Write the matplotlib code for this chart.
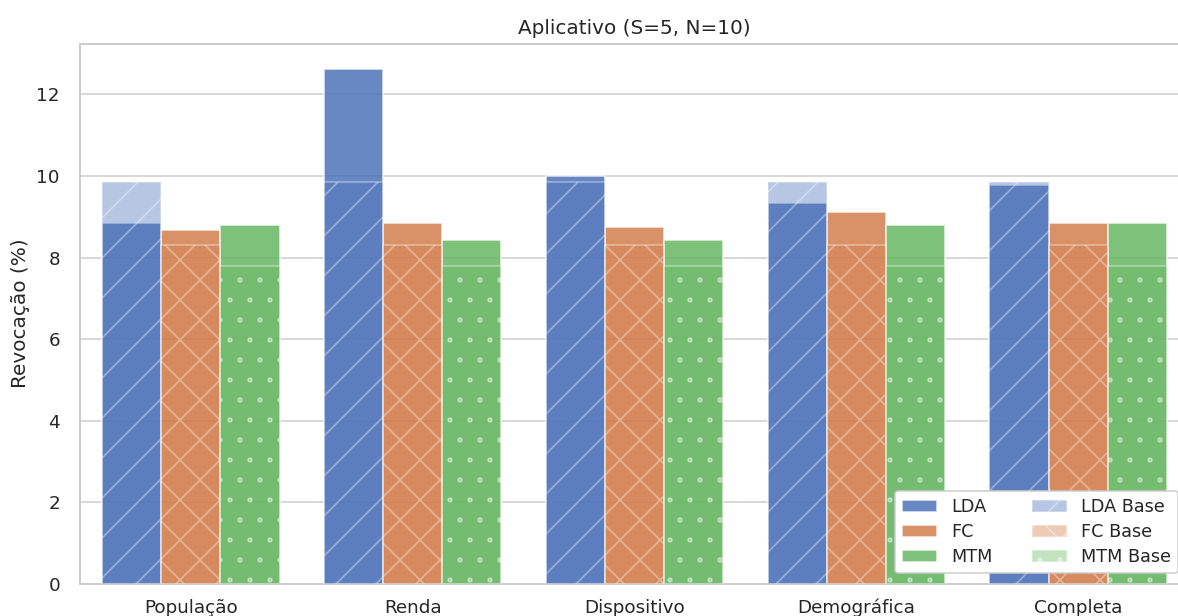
import matplotlib
matplotlib.use("Agg")
import numpy as np
import matplotlib.pyplot as plt

# Recall (%) per feature set, one list per model
categories = ["População", "Renda", "Dispositivo", "Demográfica", "Completa"]
models = ["LDA", "FC", "MTM"]
lda = [8.84, 12.62, 10.01, 9.35, 9.77]
fc = [8.67, 8.84, 8.74, 9.11, 8.84]
mtm = [8.79, 8.42, 8.42, 8.79, 8.84]
# Baseline recall of each model (same for every feature set)
lda_base = 9.86
fc_base = 8.32
mtm_base = 7.80

title = "Aplicativo (S=5, N=10)"
ylabel = "Revocação (%)"

colors = ["#4D73BA", "#D37F4D", "#67B763"]
hatches = ["//", "xx", ".."]

DPI = 240
W, H = 1178, 616
TICK_FS = 5.5
LABEL_FS = 6.0
LEGEND_FS = 5.3

plt.rcParams.update({
    "font.family": ["DejaVu Sans"],
    "font.size": TICK_FS,
    "hatch.linewidth": 0.45,
    "axes.edgecolor": "0.8",
    "axes.linewidth": 0.6,
    "text.color": "0.15",
    "xtick.color": "0.15",
    "ytick.color": "0.15",
    "axes.labelcolor": "0.15",
})

fig = plt.figure(figsize=(W / DPI, H / DPI), dpi=DPI)
ax = fig.add_axes([80 / W, (H - 583.7) / H, (1189 - 80) / W, (583.7 - 43.5) / H])

x = np.arange(len(categories))
width = 0.8 / len(models)
series = [lda, fc, mtm]
bases = [lda_base, fc_base, mtm_base]

main_handles = []
base_handles = []
for i, (name, vals, b, col, hat) in enumerate(zip(models, series, bases, colors, hatches)):
    pos = x + (i - 1) * width
    bm = ax.bar(pos, vals, width, color=col, alpha=0.85, edgecolor="white",
                linewidth=0.45, label=name, zorder=2)
    bb = ax.bar(pos, [b] * len(categories), width, color=col, alpha=0.4,
                edgecolor="white", linewidth=0.45, hatch=hat,
                label=f"{name} Base", zorder=3)
    main_handles.append(bm)
    base_handles.append(bb)

ax.set_xlim(-0.5, len(categories) - 0.5)
ax.set_ylim(0, max(max(s) for s in series) * 1.05)
ax.set_xticks(x)
ax.set_xticklabels(categories)
ax.set_yticks(np.arange(0, 13, 2))
ax.tick_params(axis="both", length=0, labelsize=TICK_FS)
ax.tick_params(axis="x", pad=4.5)
ax.tick_params(axis="y", pad=6)
ax.yaxis.grid(True, color="0.8", linewidth=0.45, zorder=0)
ax.set_axisbelow(True)
ax.spines["right"].set_visible(False)

ax.set_ylabel(ylabel, fontsize=LABEL_FS, labelpad=2)
ax.set_title(title, fontsize=LABEL_FS, pad=3)

leg = ax.legend(main_handles + base_handles,
                models + [f"{m} Base" for m in models],
                loc="lower right", ncol=2, fontsize=LEGEND_FS, frameon=True,
                framealpha=1.0, borderaxespad=0.6, labelspacing=0.4,
                columnspacing=2.2)
leg.get_frame().set_edgecolor("0.8")
leg.get_frame().set_linewidth(0.45)

fig.savefig("out.png", dpi=DPI)
